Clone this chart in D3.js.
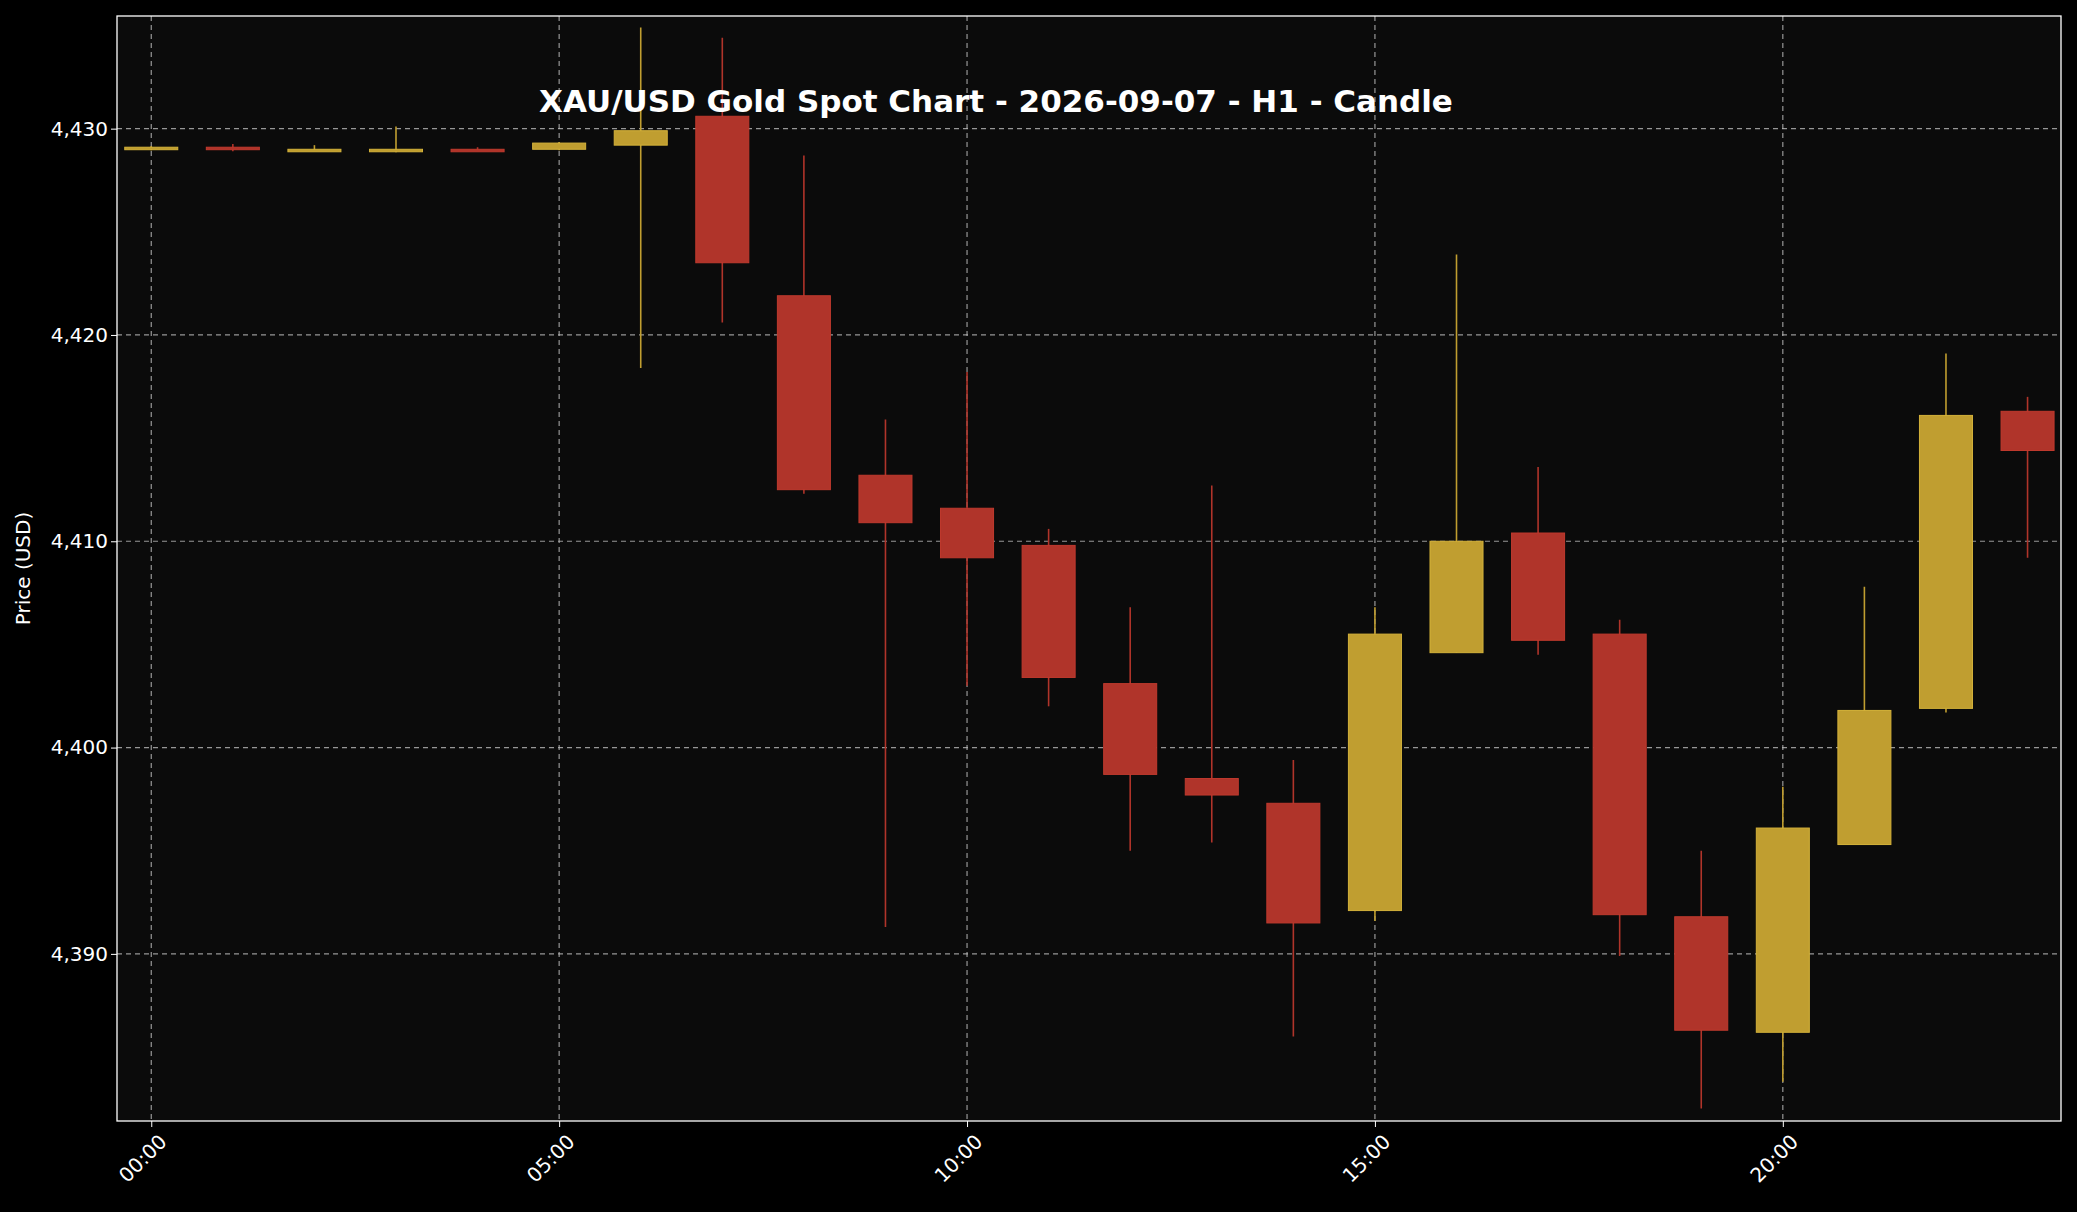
<!DOCTYPE html>
<html>
<head>
<meta charset="utf-8">
<script src="https://cdn.jsdelivr.net/npm/d3@7"></script>
<style>
  body { margin: 0; background: #000; }
  text { font-family: "DejaVu Sans", sans-serif; }
</style>
</head>
<body>
<div id="chart"></div>
<script>
// hourly candles, 2026-09-07
var hours = d3.range(24);
var opens  = [4429.05, 4429.1, 4429.0, 4428.95, 4429.0, 4429.0, 4429.2, 4430.6, 4421.9, 4413.2, 4411.6, 4409.8, 4403.1, 4398.5, 4397.3, 4392.1, 4404.6, 4410.4, 4405.5, 4391.8, 4386.2, 4395.3, 4401.9, 4416.3];
var highs  = [4429.15, 4429.25, 4429.2, 4430.1, 4429.1, 4429.35, 4434.9, 4434.4, 4428.7, 4415.9, 4418.2, 4410.6, 4406.8, 4412.7, 4399.4, 4406.8, 4423.9, 4413.6, 4406.2, 4395.0, 4398.1, 4407.8, 4419.1, 4417.0];
var lows   = [4428.95, 4428.9, 4428.95, 4428.85, 4428.95, 4428.95, 4418.4, 4420.6, 4412.3, 4391.3, 4403.0, 4402.0, 4395.0, 4395.4, 4386.0, 4391.6, 4404.6, 4404.5, 4389.9, 4382.5, 4383.8, 4395.3, 4401.7, 4409.2];
var closes = [4429.1, 4429.05, 4429.0, 4429.0, 4428.95, 4429.3, 4429.9, 4423.5, 4412.5, 4410.9, 4409.2, 4403.4, 4398.7, 4397.7, 4391.5, 4405.5, 4410.0, 4405.2, 4391.9, 4386.3, 4396.1, 4401.8, 4416.1, 4414.4];
var xTicks = [0, 5, 10, 15, 20];
var yTicks = [4390, 4400, 4410, 4420, 4430];

var svgWidth = 2077, svgHeight = 1212;
var margin = { top: 16, right: 16, bottom: 91, left: 117 };
var width = svgWidth - margin.left - margin.right;
var height = svgHeight - margin.top - margin.bottom;

var svg = d3.select("#chart").append("svg")
  .attr("width", svgWidth).attr("height", svgHeight)
  .style("background", "#000");
var g = svg.append("g").attr("transform", `translate(${margin.left},${margin.top})`);

var x = d3.scaleLinear().domain([-0.42, 23.41]).range([0, width]);
var y = d3.scaleLinear().domain([4381.9, 4435.46]).range([height, 0]);

g.append("rect").attr("width", width).attr("height", height).attr("fill", "#0b0b0b");

// grid
g.selectAll(".vg").data(xTicks).enter().append("line")
  .attr("x1", d => x(d)).attr("x2", d => x(d)).attr("y1", 0).attr("y2", height)
  .attr("stroke", "#bbb").attr("stroke-width", 1.2).attr("stroke-dasharray", "5,4").attr("opacity", 0.8);
g.selectAll(".hg").data(yTicks).enter().append("line")
  .attr("y1", d => y(d)).attr("y2", d => y(d)).attr("x1", 0).attr("x2", width)
  .attr("stroke", "#bbb").attr("stroke-width", 1.2).attr("stroke-dasharray", "5,4").attr("opacity", 0.8);

// candles
var up = "#c09e30", down = "#b0342a";
var bw = x(0.65) - x(0);
var candles = g.selectAll(".c").data(hours).enter().append("g");
candles.append("line")
  .attr("x1", i => x(i)).attr("x2", i => x(i))
  .attr("y1", i => y(highs[i])).attr("y2", i => y(lows[i]))
  .attr("stroke", i => closes[i] >= opens[i] ? up : down).attr("stroke-width", 1.6);
candles.append("rect")
  .attr("x", i => x(i) - bw / 2).attr("width", bw)
  .attr("y", i => y(Math.max(opens[i], closes[i])))
  .attr("height", i => Math.max(2.5, Math.abs(y(opens[i]) - y(closes[i]))))
  .attr("fill", i => closes[i] >= opens[i] ? up : down)
  .attr("stroke", i => closes[i] >= opens[i] ? "#d4b23a" : "#c03a2e").attr("stroke-width", 1);

// axes
var xAxis = g.append("g").attr("transform", `translate(0,${height})`)
  .call(d3.axisBottom(x).tickValues(xTicks).tickSize(6).tickFormat(d => String(d).padStart(2, "0") + ":00"));
xAxis.selectAll("text").attr("fill", "#fff").style("font-size", "20px")
  .attr("text-anchor", "end").attr("dx", "-0.2em").attr("dy", "0.9em")
  .attr("transform", "rotate(-45)");
var yAxis = g.append("g").call(d3.axisLeft(y).tickValues(yTicks).tickSize(6));
yAxis.selectAll("text").attr("fill", "#fff").style("font-size", "20px");
[xAxis, yAxis].forEach(a => { a.selectAll("line").attr("stroke", "#fff"); a.select(".domain").remove(); });

g.append("rect").attr("width", width).attr("height", height)
  .attr("fill", "none").attr("stroke", "#fff").attr("stroke-width", 1.3);

svg.append("text").attr("transform", `translate(30,${margin.top + height / 2}) rotate(-90)`)
  .attr("text-anchor", "middle").attr("fill", "#fff").style("font-size", "20px").text("Price (USD)");

svg.append("text").attr("x", 996).attr("y", 112).attr("text-anchor", "middle")
  .attr("fill", "#fff").style("font-size", "31px").style("font-weight", "bold")
  .text("XAU/USD Gold Spot Chart - 2026-09-07 - H1 - Candle");
</script>
</body>
</html>
